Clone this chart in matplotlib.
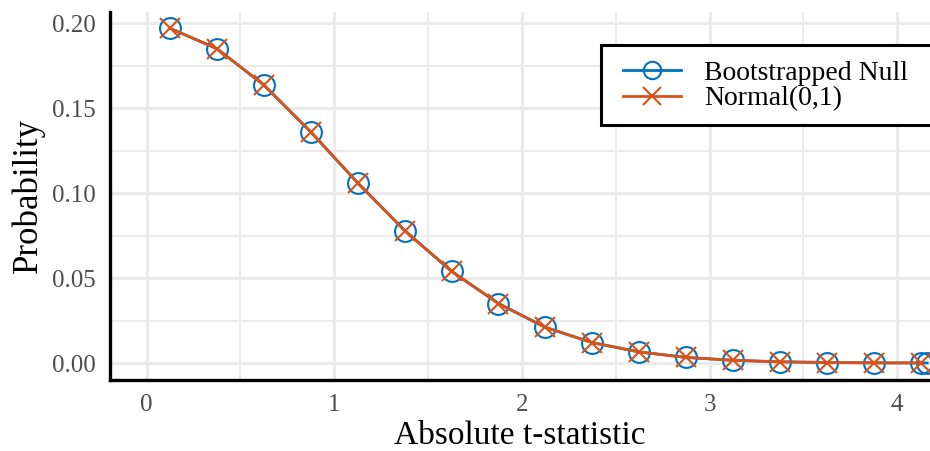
import matplotlib
matplotlib.use("Agg")
import matplotlib.pyplot as plt
from matplotlib.patches import Rectangle

x_boot = [0.125, 0.375, 0.625, 0.875, 1.125, 1.375, 1.625, 1.875, 2.125, 2.375,
          2.625, 2.875, 3.125, 3.375, 3.625, 3.875, 4.125, 4.16]
y_boot = [0.197, 0.185, 0.1636, 0.136, 0.106, 0.078, 0.054, 0.035, 0.021, 0.012,
          0.0065, 0.0033, 0.0016, 0.0007, 0.0003, 0.0001, 0.00005, 0.00003]
x_norm = [0.125, 0.375, 0.625, 0.875, 1.125, 1.375, 1.625, 1.875, 2.125, 2.375,
          2.625, 2.875, 3.125, 3.375, 3.625, 3.875, 4.125]
y_norm = [0.197, 0.185, 0.1636, 0.136, 0.106, 0.078, 0.054, 0.035, 0.021, 0.012,
          0.0065, 0.0033, 0.0016, 0.0007, 0.0003, 0.0001, 0.00005]
labels = ["Bootstrapped Null", "Normal(0,1)"]
xticks = [0, 1, 2, 3, 4]
yticks = [0.00, 0.05, 0.10, 0.15, 0.20]

plt.rcParams['font.family'] = ['Liberation Serif', 'DejaVu Serif']
W, H = 930, 451
fig = plt.figure(figsize=(W / 100, H / 100), dpi=100)
ax_left, ax_bottom, ax_top = 109.7, 380, 11.7
ax = fig.add_axes([ax_left / W, 1 - ax_bottom / H, (W - ax_left) / W, (ax_bottom - ax_top) / H])

blue = '#0072BD'
orange = '#D95319'
ax.plot(x_boot, y_boot, color=blue, lw=2, marker='o', ms=15, mfc='none',
        mec=blue, mew=1.5, label=labels[0], zorder=3, clip_on=False)
ax.plot(x_norm, y_norm, color=orange, lw=2, marker='x', ms=15,
        mec=orange, mew=1.5, label=labels[1], zorder=4, clip_on=False)

ax.set_xlim(-0.197, 4.175)
ax.set_ylim(-0.01, 0.2068)
ax.set_xticks(xticks)
ax.set_xticklabels([str(t) for t in xticks])
ax.set_yticks(yticks)
ax.set_yticklabels([f"{t:.2f}" for t in yticks])
ax.set_xticks([0.5, 1.5, 2.5, 3.5], minor=True)
ax.set_yticks([0.025, 0.075, 0.125, 0.175], minor=True)
ax.grid(which='major', color='#ebebeb', lw=2.2)
ax.grid(which='minor', color='#ebebeb', lw=1.4)
ax.set_axisbelow(True)
ax.tick_params(which='both', length=0, labelsize=18, labelcolor='#4d4d4d', pad=10)

for s in ['top', 'right']:
    ax.spines[s].set_visible(False)
for s in ['left', 'bottom']:
    ax.spines[s].set_linewidth(2.4)
    ax.spines[s].set_color('black')

ax.set_xlabel("Absolute t-statistic", fontsize=24, labelpad=3)
ax.set_ylabel("Probability", fontsize=25, labelpad=5)

# legend frame extending past the right edge, as in the reference
frame = Rectangle((601 / W, 1 - 125 / H), 400 / W, 80 / H, transform=fig.transFigure,
                  facecolor='white', edgecolor='black', lw=2.2, zorder=4)
fig.add_artist(frame)

leg = fig.legend(loc='upper left', bbox_to_anchor=(610 / W, 1 - 48 / H),
                 bbox_transform=fig.transFigure, borderaxespad=0, fontsize=20,
                 frameon=False, handlelength=2.1, labelspacing=0.0,
                 borderpad=0.45, handletextpad=0.85)
leg.set_zorder(5)
for h in leg.legend_handles:
    h.set_markersize(12.5)

fig.savefig("out.png", dpi=100)
